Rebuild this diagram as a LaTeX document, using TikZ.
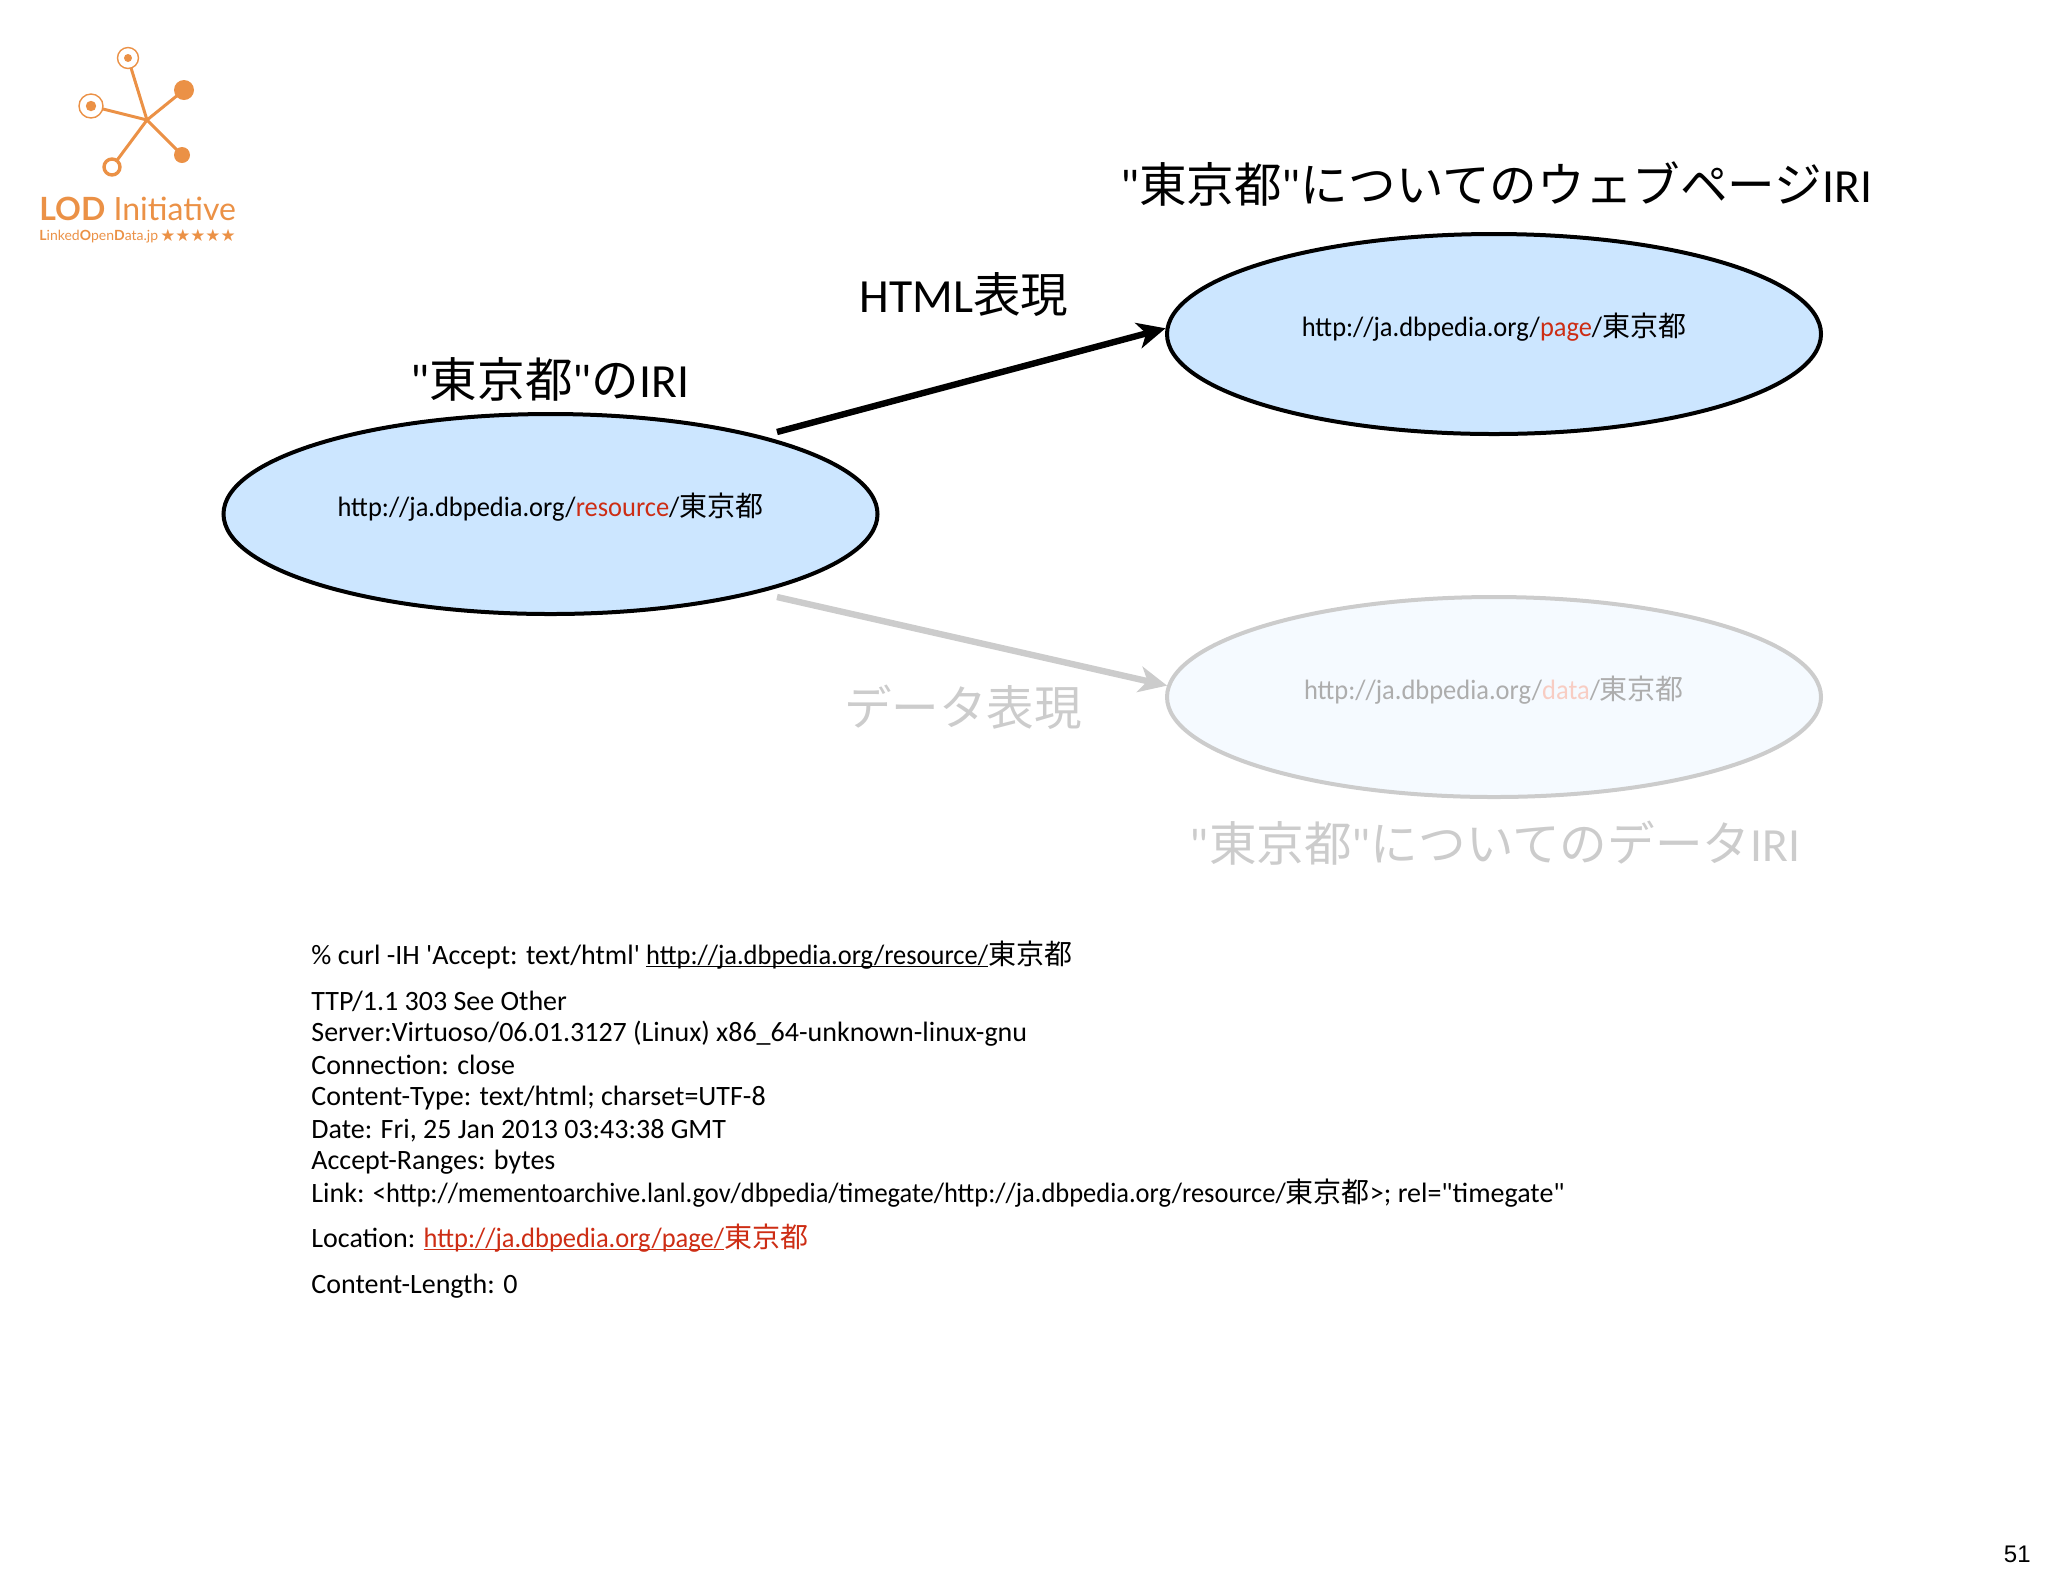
\documentclass[tikz,border=0pt]{standalone}
\usepackage{fontspec}
\usepackage{tikz}
\usetikzlibrary{arrows.meta, positioning, shapes.geometric}
\setmainfont{Carlito}[Ligatures=TeXOff]
\newfontfamily\urlfont{Carlito}[Ligatures=TeXOff, FakeStretch=0.945]
\newfontfamily\cjkfont{Noto Sans CJK JP}
\newfontfamily\lodfont{Lato}
\newfontfamily\starfont{DejaVu Sans}
\newfontfamily\pagefont{Liberation Sans}
\definecolor{irifill}{RGB}{204, 230, 255}
\definecolor{irired}{RGB}{205, 45, 20}
\definecolor{fadegray}{RGB}{204, 204, 204}
\definecolor{fadefill}{RGB}{245, 250, 255}
\definecolor{fadered}{RGB}{248, 205, 195}
\definecolor{lodorange}{RGB}{235, 145, 70}
\newcommand{\jp}[1]{{\cjkfont #1}}
\newcommand{\urltxt}[1]{{\urlfont #1}}
\newcommand{\urlline}[1]{\underline{\smash{\urltxt{#1}}}}

\begin{document}
\begin{tikzpicture}[
    x=0.5pt, y=-0.5pt,
    irinode/.style={draw=black, fill=irifill, ellipse, line width=2pt, inner sep=0pt,
                    minimum width=327pt, minimum height=100pt, text height=10pt, text depth=7.5pt,
                    font=\fontsize{14}{16}\selectfont},
    fadenode/.style={irinode, draw=fadegray, fill=fadefill, text=fadegray!85!black},
    biglbl/.style={inner sep=0pt, font=\fontsize{23.8}{26}\selectfont},
    fadelbl/.style={biglbl, text=fadegray},
    bodyline/.style={inner sep=0pt, anchor=base west, font=\fontsize{14}{16}\selectfont},
    arrow/.style={-{Stealth[length=14pt, width=13pt, inset=4pt]}, line width=3.2pt},
    fadearrow/.style={arrow, draw=fadegray, fill=fadegray},
    lodfull/.style={circle, fill=lodorange, inner sep=0pt},
    lodring/.style={circle, draw=lodorange, fill=white, inner sep=0pt},
    lodline/.style={draw=lodorange, line width=1.5pt},
  ]
    \useasboundingbox (0,0) rectangle (2048,1576);

    % Logo
    \coordinate (hub) at (147,120);
    \draw[lodline] (hub) -- (128,58) coordinate (lodtopend);
    \draw[lodline] (hub) -- (91,106) coordinate (lodleftend);
    \draw[lodline] (hub) -- (184,90) coordinate (lodrightend);
    \draw[lodline] (hub) -- (182,155) coordinate (loddownend);
    \draw[lodline] (hub) -- (112,167) coordinate (lodbottomend);
    \node[lodring, minimum size=10.5pt, line width=0.7pt] (lodtop) at (lodtopend) {};
    \node[lodfull, minimum size=4pt] (lodtopdot) at (lodtopend) {};
    \node[lodring, minimum size=12pt, line width=0.7pt] (lodleft) at (lodleftend) {};
    \node[lodfull, minimum size=5.2pt] (lodleftdot) at (lodleftend) {};
    \node[lodfull, minimum size=10pt] (lodright) at (lodrightend) {};
    \node[lodfull, minimum size=8pt] (loddown) at (loddownend) {};
    \node[lodring, minimum size=8pt, line width=1.7pt] (lodbottom) at (lodbottomend) {};
    \node[inner sep=0pt, anchor=base west, text=lodorange, font=\lodfont\fontsize{16}{18}\selectfont] (lodname) at (39,220)
      {\textbf{LOD} Initiative};
    \node[inner sep=0pt, anchor=base west, text=lodorange, font=\lodfont\fontsize{7}{8}\selectfont] (lodsub) at (39,240)
      {\textbf{L}inked\textbf{O}pen\textbf{D}ata.jp};
    \node[inner sep=0pt, anchor=base east, text=lodorange, font=\starfont\fontsize{8.4}{10}\selectfont] (lodstars) at (236,241)
      {★★★★★};

    % IRI nodes
    \node[irinode] (resource) at (550.5,514)
      {\urltxt{http://ja.dbpedia.org/\textcolor{irired}{resource}/}\jp{東京都}};
    \node[irinode] (page) at (1494,334)
      {\urltxt{http://ja.dbpedia.org/\textcolor{irired}{page}/}\jp{東京都}};
    \node[fadenode] (data) at (1494,697)
      {\urltxt{http://ja.dbpedia.org/\textcolor{fadered}{data}/}\jp{東京都}};

    % Labels
    \node[biglbl] (resourcelbl) at (550,379) {"\jp{東京都}"\jp{の}IRI};
    \node[biglbl] (pagelbl) at (1496,184) {"\jp{東京都}"\jp{についてのウェブページ}IRI};
    \node[biglbl] (htmllbl) at (964,295) {HTML\jp{表現}};
    \node[fadelbl] (datalbl) at (963,707) {\jp{データ表現}};
    \node[fadelbl] (dataIRIlbl) at (1495,843) {"\jp{東京都}"\jp{についてのデータ}IRI};

    % Arrows
    \coordinate (htmlstart) at (777,432);
    \coordinate (datastart) at (777,597);
    \draw[arrow] (htmlstart) -- (page.179);
    \draw[fadearrow] (datastart) -- (data.178.5);

    % curl output
    \node[bodyline] (curl) at (311,964)
      {\% curl -IH 'Accept: text/html' \urlline{http://ja.dbpedia.org/resource/}\jp{東京都}};
    \node[bodyline] (status) at (311,1010) {TTP/1.1 303 See Other};
    \node[bodyline] (server) at (311,1041) {Server:Virtuoso/06.01.3127 (Linux) x86\_64-unknown-linux-gnu};
    \node[bodyline] (connection) at (311,1074) {Connection: close};
    \node[bodyline] (ctype) at (311,1105) {Content-Type: text/html; charset=UTF-8};
    \node[bodyline] (date) at (311,1138) {Date: Fri, 25 Jan 2013 03:43:38 GMT};
    \node[bodyline] (ranges) at (311,1169) {Accept-Ranges: bytes};
    \node[bodyline] (link) at (311,1202)
      {Link: \urltxt{<http://mementoarchive.lanl.gov/dbpedia/timegate/http://ja.dbpedia.org/resource/}\jp{東京都}>; rel="timegate"};
    \node[bodyline] (location) at (311,1247)
      {Location: \textcolor{irired}{\urlline{http://ja.dbpedia.org/page/}\jp{東京都}}};
    \node[bodyline] (clength) at (311,1293) {Content-Length: 0};

    % Page number
    \node[inner sep=0pt, anchor=base east, font=\pagefont\fontsize{12}{14}\selectfont] (pagenum) at (2031,1562) {51};
  \end{tikzpicture}
\end{document}
